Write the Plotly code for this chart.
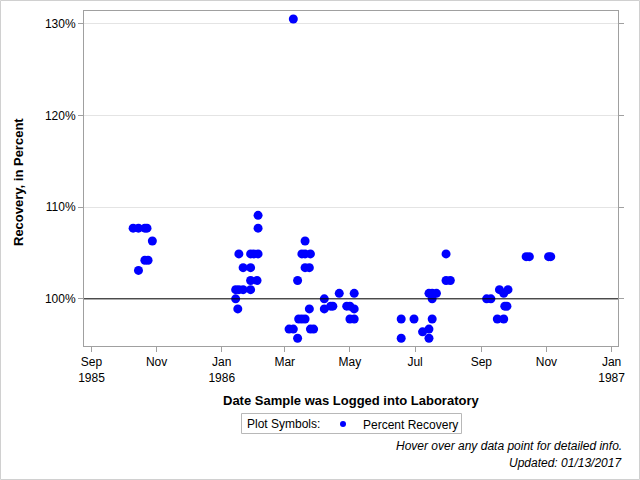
import plotly.graph_objects as go

# ---- data ----
dates = [
    # Oct 1985
    "1985-10-10", "1985-10-15", "1985-10-21", "1985-10-23", "1985-10-28",
    "1985-10-21", "1985-10-24", "1985-10-15",
    # Jan/Feb 1986
    "1986-02-04", "1986-02-04", "1986-01-17", "1986-01-28", "1986-01-31", "1986-02-04",
    "1986-01-21", "1986-01-28", "1986-01-28", "1986-02-03",
    "1986-01-14", "1986-01-17", "1986-01-21", "1986-01-28", "1986-01-14", "1986-01-16",
    # Mar 1986
    "1986-03-09", "1986-03-13", "1986-03-20", "1986-03-17", "1986-03-20", "1986-03-25",
    "1986-03-20", "1986-03-24", "1986-03-14", "1986-03-17", "1986-03-20",
    "1986-03-05", "1986-03-09", "1986-03-13", "1986-03-24", "1986-03-25", "1986-03-28",
    # Apr/May 1986
    "1986-04-07", "1986-04-07", "1986-04-13", "1986-04-15", "1986-04-21", "1986-04-28",
    "1986-05-01", "1986-05-05", "1986-05-05", "1986-05-01", "1986-05-05",
    # Jun-Aug 1986
    "1986-06-18", "1986-06-18", "1986-06-30", "1986-07-08", "1986-07-14", "1986-07-14",
    "1986-07-17", "1986-07-14", "1986-07-17", "1986-07-21", "1986-07-17",
    "1986-07-30", "1986-07-30", "1986-08-03",
    # Sep 1986
    "1986-09-06", "1986-09-10", "1986-09-16", "1986-09-22", "1986-09-18", "1986-09-26",
    "1986-09-22", "1986-09-23", "1986-09-25",
    # Oct/Nov 1986
    "1986-10-13", "1986-10-16", "1986-11-03", "1986-11-05",
]
recovery = [
    107.7, 107.7, 107.7, 107.7, 106.3,
    104.2, 104.2, 103.1,
    109.1, 107.7, 104.9, 104.9, 104.9, 104.9,
    103.4, 103.4, 102.0, 102.0,
    101.0, 101.0, 101.0, 101.0, 100.0, 98.9,
    130.5, 102.0, 106.3, 104.9, 104.9, 104.9,
    103.4, 103.4, 97.8, 97.8, 97.8,
    96.7, 96.7, 95.7, 98.9, 96.7, 96.7,
    100.0, 98.9, 99.2, 99.2, 100.6, 99.2,
    99.2, 100.6, 98.9, 97.8, 97.8,
    97.8, 95.7, 97.8, 96.4, 96.7, 95.7,
    97.8, 100.6, 100.6, 100.6, 100.0,
    104.9, 102.0, 102.0,
    100.0, 100.0, 97.8, 97.8, 101.0, 101.0,
    100.6, 99.2, 99.2,
    104.6, 104.6, 104.6, 104.6,
]
x_tick_vals = ["1985-09-01", "1985-11-01", "1986-01-01", "1986-03-01", "1986-05-01",
               "1986-07-01", "1986-09-01", "1986-11-01", "1987-01-01"]
x_tick_text = ["Sep<br>1985", "Nov", "Jan<br>1986", "Mar", "May", "Jul", "Sep", "Nov", "Jan<br>1987"]
y_tick_vals = [100, 110, 120, 130]
y_tick_text = ["100%", "110%", "120%", "130%"]

FONT = "Liberation Sans, Arial, sans-serif"
FRAME = "#A0A0A0"

fig = go.Figure()
fig.add_trace(go.Scatter(
    x=dates, y=recovery, mode="markers", name="Percent Recovery",
    marker=dict(color="#0000FF", size=9, line=dict(width=0)),
    hovertemplate="%{x|%b %d, %Y}<br>%{y:.1f}%<extra></extra>",
    showlegend=False, legendgroup="pr",
))
# legend entry (smaller symbol, as in the reference legend)
fig.add_trace(go.Scatter(
    x=[None], y=[None], mode="markers", name="Percent Recovery",
    marker=dict(color="#0000FF", size=6, line=dict(width=0)),
    showlegend=True, legendgroup="pr", hoverinfo="skip",
))

L, R, T, B = 84, 22, 11, 134
W, H = 640, 480
pw, ph = W - L - R, H - T - B

def px(xp):
    return (xp - L) / pw

def py(yp):
    return (H - B - yp) / ph

fig.update_layout(
    width=W, height=H,
    margin=dict(l=L, r=R, t=T, b=B, autoexpand=False),
    paper_bgcolor="white", plot_bgcolor="white",
    font=dict(family=FONT, size=12, color="#000000"),
    showlegend=True,
    legend=dict(
        orientation="h", x=px(323), xanchor="left", y=py(424), yanchor="middle",
        borderwidth=0, bgcolor="rgba(0,0,0,0)",
        font=dict(size=12), itemwidth=30, tracegroupgap=0,
    ),
    xaxis=dict(
        type="date", range=["1985-08-25", "1987-01-07"],
        tickvals=x_tick_vals, ticktext=x_tick_text,
        ticks="outside", ticklen=5, tickcolor=FRAME,
        showline=True, linecolor=FRAME, linewidth=1, mirror=True,
        showgrid=False, zeroline=False,
        tickfont=dict(size=12, color="#000000"),
    ),
    yaxis=dict(
        range=[94.86, 131.37],
        tickvals=y_tick_vals, ticktext=y_tick_text,
        ticks="outside", ticklen=5, tickcolor=FRAME,
        showline=True, linecolor=FRAME, linewidth=1, mirror="ticks",
        showgrid=True, gridcolor="#E4E4E4", gridwidth=1, zeroline=False,
        tickfont=dict(size=12, color="#000000"),
    ),
    shapes=[
        dict(type="line", xref="paper", yref="y", x0=0, x1=1, y0=100, y1=100,
             line=dict(color="black", width=1), layer="above"),
        dict(type="rect", xref="paper", yref="paper",
             x0=px(0.5), x1=px(639.5), y0=py(479.5), y1=py(0.5),
             line=dict(color="#D0D0D0", width=1), layer="below"),
        # legend frame
        dict(type="rect", xref="paper", yref="paper",
             x0=px(241.5), x1=px(461.5), y0=py(433.5), y1=py(413.5),
             line=dict(color="#B8B8B8", width=1), layer="below"),
    ],
    annotations=[
        dict(text="<b>Recovery, in Percent</b>", xref="paper", yref="paper",
             x=px(18), y=py(182), textangle=-90, showarrow=False,
             xanchor="center", yanchor="middle", font=dict(size=13)),
        dict(text="<b>Date Sample was Logged into Laboratory</b>", xref="paper", yref="paper",
             x=px(351), y=py(400), showarrow=False,
             xanchor="center", yanchor="middle", font=dict(size=13)),
        dict(text="Plot Symbols:", xref="paper", yref="paper",
             x=px(245), y=py(423.5), showarrow=False,
             xanchor="left", yanchor="middle", font=dict(size=12)),
        dict(text="<i>Hover over any data point for detailed info.</i>", xref="paper", yref="paper",
             x=px(624), y=py(446), showarrow=False,
             xanchor="right", yanchor="middle", font=dict(size=12)),
        dict(text="<i>Updated: 01/13/2017</i>", xref="paper", yref="paper",
             x=px(624), y=py(463), showarrow=False,
             xanchor="right", yanchor="middle", font=dict(size=12)),
    ],
)

fig.write_html("out.html")
